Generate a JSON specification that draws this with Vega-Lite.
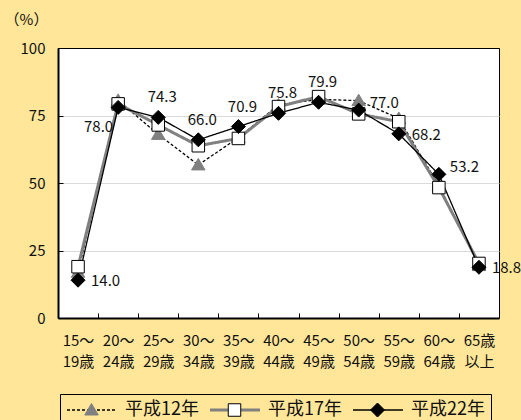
{
  "$schema": "https://vega.github.io/schema/vega-lite/v6.json",
  "width": 441,
  "height": 270,
  "autosize": {"type": "none"},
  "padding": {"left": 58, "top": 48, "right": 22, "bottom": 102},
  "background": "#FFE699",
  "config": {
    "font": "Noto Sans CJK JP",
    "view": {"fill": "white", "stroke": "black", "strokeWidth": 1},
    "legend": {
      "direction": "horizontal",
      "columns": 3,
      "symbolSize": 2500,
      "clipHeight": 20,
      "labelFontSize": 18,
      "labelLimit": 200,
      "padding": 6,
      "symbolStrokeWidth": 1
    }
  },
  "data": {
    "values": [
      {"age": "15～|19歳", "series": "平成12年", "v": 16.9},
      {"age": "20～|24歳", "series": "平成12年", "v": 80.6},
      {"age": "25～|29歳", "series": "平成12年", "v": 68.0},
      {"age": "30～|34歳", "series": "平成12年", "v": 56.7},
      {"age": "35～|39歳", "series": "平成12年", "v": 66.8},
      {"age": "40～|44歳", "series": "平成12年", "v": 78.9},
      {"age": "45～|49歳", "series": "平成12年", "v": 81.0},
      {"age": "50～|54歳", "series": "平成12年", "v": 80.5},
      {"age": "55～|59歳", "series": "平成12年", "v": 73.9},
      {"age": "60～|64歳", "series": "平成12年", "v": 49.0},
      {"age": "65歳|以上", "series": "平成12年", "v": 19.4},
      {"age": "15～|19歳", "series": "平成17年", "v": 19.0},
      {"age": "20～|24歳", "series": "平成17年", "v": 79.3},
      {"age": "25～|29歳", "series": "平成17年", "v": 71.5},
      {"age": "30～|34歳", "series": "平成17年", "v": 63.8},
      {"age": "35～|39歳", "series": "平成17年", "v": 66.5},
      {"age": "40～|44歳", "series": "平成17年", "v": 78.3},
      {"age": "45～|49歳", "series": "平成17年", "v": 82.0},
      {"age": "50～|54歳", "series": "平成17年", "v": 75.6},
      {"age": "55～|59歳", "series": "平成17年", "v": 72.7},
      {"age": "60～|64歳", "series": "平成17年", "v": 48.3},
      {"age": "65歳|以上", "series": "平成17年", "v": 20.2},
      {"age": "15～|19歳", "series": "平成22年", "v": 14.0},
      {"age": "20～|24歳", "series": "平成22年", "v": 78.0},
      {"age": "25～|29歳", "series": "平成22年", "v": 74.3},
      {"age": "30～|34歳", "series": "平成22年", "v": 66.0},
      {"age": "35～|39歳", "series": "平成22年", "v": 70.9},
      {"age": "40～|44歳", "series": "平成22年", "v": 75.8},
      {"age": "45～|49歳", "series": "平成22年", "v": 79.9},
      {"age": "50～|54歳", "series": "平成22年", "v": 77.0},
      {"age": "55～|59歳", "series": "平成22年", "v": 68.2},
      {"age": "60～|64歳", "series": "平成22年", "v": 53.2},
      {"age": "65歳|以上", "series": "平成22年", "v": 18.8}
    ]
  },
  "encoding": {
    "x": {
      "field": "age",
      "type": "nominal",
      "sort": null,
      "scale": {
        "type": "band",
        "paddingInner": 0,
        "paddingOuter": 0,
        "domain": ["15～|19歳", "20～|24歳", "25～|29歳", "30～|34歳", "35～|39歳", "40～|44歳", "45～|49歳", "50～|54歳", "55～|59歳", "60～|64歳", "65歳|以上"]
      },
      "axis": {
        "title": null,
        "labelAngle": 0,
        "labelExpr": "split(datum.label, '|')",
        "labelFontSize": 15,
        "labelLineHeight": 21,
        "labelBaseline": "top",
        "labelPadding": 20,
        "labelColor": "#111111",
        "tickBand": "extent",
        "tickSize": -5,
        "tickColor": "black",
        "domainColor": "black",
        "domainWidth": 2,
        "grid": false
      }
    },
    "y": {
      "field": "v",
      "type": "quantitative",
      "scale": {"domain": [0, 100], "nice": false},
      "axis": {
        "title": "（%）",
        "titleAngle": 0,
        "titleX": -32,
        "titleY": -29,
        "titleAlign": "center",
        "titleBaseline": "middle",
        "titleFontSize": 15,
        "titleFontWeight": "normal",
        "titleColor": "#111111",
        "values": [0, 25, 50, 75, 100],
        "labelFontSize": 15,
        "labelColor": "#111111",
        "labelPadding": 18,
        "tickSize": -5,
        "tickColor": "black",
        "domainColor": "black",
        "domainWidth": 2,
        "grid": true,
        "gridColor": {"condition": {"test": "datum.value === 100", "value": "black"}, "value": "#d9d9d9"},
        "gridWidth": 1
      }
    }
  },
  "layer": [
    {
      "mark": {"type": "line"},
      "encoding": {
        "color": {
          "field": "series",
          "type": "nominal",
          "scale": {"range": ["black", "#808080", "black"]},
          "legend": {
            "title": null,
            "orient": "none",
            "legendX": 2,
            "legendY": 346,
            "symbolType": "stroke",
            "labelOffset": 7,
            "columnPadding": 10,
            "labelColor": "#111111",
            "strokeColor": "black",
            "encode": {"symbols": {"update": {"strokeWidth": {"signal": "(datum.value === '平成17年' ? 3 : 1.3)"}}}}
          }
        },
        "strokeDash": {
          "field": "series",
          "type": "nominal",
          "scale": {"range": [[3, 2], [1, 0], [1, 0]]}
        },
        "strokeWidth": {"condition": {"test": "datum.series === '平成17年'", "value": 3}, "value": 1.3}
      }
    },
    {
      "transform": [{"filter": "datum.v != null"}],
      "mark": {"type": "point", "filled": true, "size": 2500, "strokeWidth": 1, "opacity": 1},
      "encoding": {
        "shape": {
          "field": "series",
          "type": "nominal",
          "scale": {"range": [
            "M0,-0.26L0.27,0.2L-0.27,0.2Z",
            "M-0.25,-0.25L0.25,-0.25L0.25,0.25L-0.25,0.25Z",
            "M0,-0.28L0.28,0L0,0.28L-0.28,0Z"
          ]}
        },
        "fill": {
          "field": "series",
          "type": "nominal",
          "scale": {"range": ["#808080", "white", "black"]},
          "legend": {
            "title": null,
            "orient": "none",
            "legendX": 2,
            "legendY": 346,
            "labelExpr": "''",
            "labelOffset": 0,
            "columnPadding": 92
          }
        },
        "stroke": {
          "field": "series",
          "type": "nominal",
          "scale": {"range": ["#808080", "black", "black"]}
        }
      }
    },
    {
      "transform": [{"filter": "datum.series === '平成22年' && indexof(['25～|29歳','30～|34歳','35～|39歳','40～|44歳','45～|49歳'], datum.age) >= 0"}],
      "mark": {"type": "text", "align": "center", "baseline": "middle", "dx": 4, "dy": -20, "fontSize": 15, "color": "#111111"},
      "encoding": {"text": {"field": "v", "type": "quantitative", "format": ".1f"}}
    },
    {
      "transform": [{"filter": "datum.series === '平成22年' && indexof(['15～|19歳','55～|59歳','65歳|以上'], datum.age) >= 0"}],
      "mark": {"type": "text", "align": "left", "baseline": "middle", "dx": 13, "dy": 1, "fontSize": 15, "color": "#111111"},
      "encoding": {"text": {"field": "v", "type": "quantitative", "format": ".1f"}}
    },
    {
      "transform": [{"filter": "datum.series === '平成22年' && indexof(['50～|54歳','60～|64歳'], datum.age) >= 0"}],
      "mark": {"type": "text", "align": "left", "baseline": "middle", "dx": 11, "dy": -7, "fontSize": 15, "color": "#111111"},
      "encoding": {"text": {"field": "v", "type": "quantitative", "format": ".1f"}}
    },
    {
      "transform": [{"filter": "datum.series === '平成22年' && datum.age === '20～|24歳'"}],
      "mark": {"type": "text", "align": "right", "baseline": "middle", "dx": -5, "dy": 20, "fontSize": 15, "color": "#111111"},
      "encoding": {"text": {"field": "v", "type": "quantitative", "format": ".1f"}}
    }
  ]
}
